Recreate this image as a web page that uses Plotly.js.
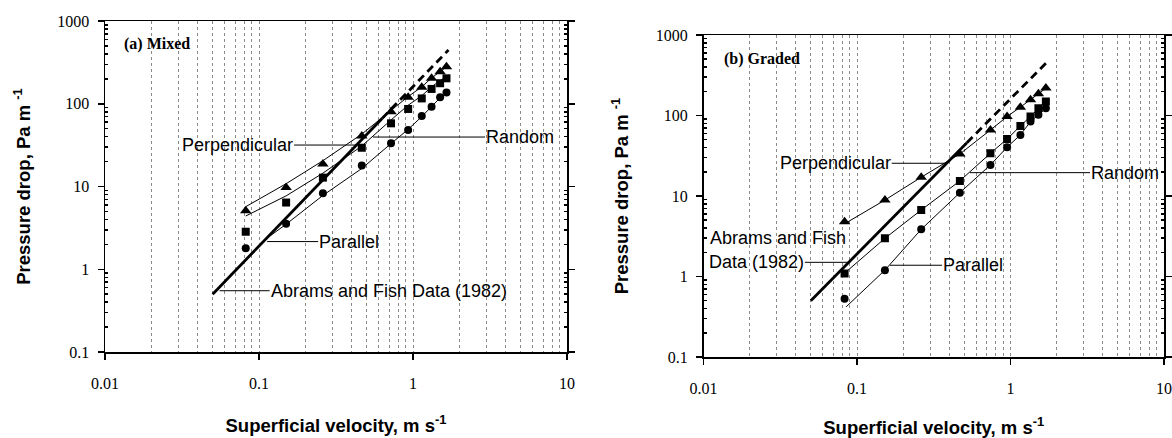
<!DOCTYPE html>
<html>
<head>
<meta charset="utf-8">
<script src="https://cdn.plot.ly/plotly-3.0.1.min.js"></script>
<style>html,body{margin:0;padding:0;background:#fff;}#chart{width:1172px;height:438px;}</style>
</head>
<body>
<div id="chart"></div>
<script>
// ---------- data ----------
// (a) Mixed
const velMixed      = [0.082, 0.15, 0.26, 0.465, 0.72, 0.93, 1.14, 1.32, 1.5, 1.65];
const mixedPerp     = [5.1, 9.7, 18.7, 40.8, 80, 120, 158, 203, 244, 280];
const mixedRandom   = [2.84, 6.4, 12.8, 29.4, 58, 86.5, 116, 151, 177, 203];
const mixedParallel = [1.79, 3.55, 8.3, 18.0, 33.3, 48.2, 71, 92, 120, 137];
// fitted curves (a)
const mixedPerpFitV = [0.082, 0.15, 0.26, 0.465, 0.72, 0.93, 1.14, 1.32, 1.5, 1.7];
const mixedPerpFitP = [5.7, 10.8, 20.5, 43, 83, 122, 160, 205, 245, 290];
const mixedRandFitV = [0.082, 0.15, 0.26, 0.465, 0.72, 0.93, 1.14, 1.32, 1.5, 1.7];
const mixedRandFitP = [4.4, 7.7, 14.5, 30.8, 63.7, 96, 125, 160, 190, 222];
const mixedParFitV  = [0.11, 0.15, 0.26, 0.465, 0.72, 0.93, 1.14, 1.32, 1.5, 1.74];
const mixedParFitP  = [2.3, 3.5, 7.8, 16.5, 33, 49, 70, 92, 118, 146];
// Abrams and Fish (1982), measured part and extrapolation, panel (a)
const abramsAV = [0.05, 0.63];
const abramsAP = [0.5, 66.5];
const abramsAExtV = [0.63, 1.7];
const abramsAExtP = [66.5, 446];

// (b) Graded
const velGraded      = [0.083, 0.152, 0.262, 0.468, 0.74, 0.95, 1.16, 1.35, 1.52, 1.7];
const gradedPerp     = [4.8, 8.9, 17.1, 33.3, 66, 97, 127, 157, 186, 219];
const gradedRandom   = [1.09, 2.98, 6.7, 15.4, 34, 51, 74, 97, 123, 149];
const gradedParallel = [0.53, 1.2, 3.85, 11.0, 24.3, 40.4, 57.4, 84, 102, 123];
// fitted curves (b)
const gradedPerpFitV = [0.086, 0.152, 0.262, 0.468, 0.74, 0.95, 1.16, 1.35, 1.52, 1.72];
const gradedPerpFitP = [4.7, 8.9, 17.1, 33.3, 66, 97, 127, 157, 186, 222];
const gradedRandFitV = [0.083, 0.152, 0.262, 0.468, 0.74, 0.95, 1.16, 1.35, 1.52, 1.72];
const gradedRandFitP = [1.1, 2.98, 6.7, 15.4, 34, 51, 74, 97, 123, 152];
const gradedParFitV  = [0.085, 0.152, 0.262, 0.468, 0.74, 0.95, 1.16, 1.35, 1.52, 1.72];
const gradedParFitP  = [0.42, 1.2, 3.85, 11.0, 24.3, 40.4, 57.4, 84, 102, 125];
// Abrams and Fish (1982), panel (b)
const abramsBV = [0.05, 0.52];
const abramsBP = [0.5, 45.9];
const abramsBExtV = [0.52, 1.72];
const abramsBExtP = [45.9, 456];

// ticks
const xTickVals = [0.01, 0.1, 1, 10];
const xTickText = ['0.01', '0.1', '1', '10'];
const yTickVals = [0.1, 1, 10, 100, 1000];
const yTickText = ['0.1', '1', '10', '100', '1000'];

// ---------- build ----------
function minorVals(d0, d1) {
  const out = [];
  for (let d = d0; d < d1; d++) for (let k = 2; k <= 9; k++) out.push(k * Math.pow(10, d));
  return out;
}
const minorX = minorVals(-2, 1);
const minorY = minorVals(-1, 3);

function markers(x, y, sym, xa, ya, size) {
  return {x: x, y: y, xaxis: xa, yaxis: ya, mode: 'markers', type: 'scatter', showlegend: false,
          marker: {symbol: sym, size: size, color: '#000'}, hoverinfo: 'x+y'};
}
function line(x, y, xa, ya, w, dash) {
  return {x: x, y: y, xaxis: xa, yaxis: ya, mode: 'lines', type: 'scatter', showlegend: false,
          line: {color: '#000', width: w, dash: dash || 'solid'}, hoverinfo: 'skip'};
}

const traces = [
  line(mixedPerpFitV, mixedPerpFitP, 'x', 'y', 1),
  line(mixedRandFitV, mixedRandFitP, 'x', 'y', 1),
  line(mixedParFitV, mixedParFitP, 'x', 'y', 1),
  line(abramsAV, abramsAP, 'x', 'y', 2.8),
  line(abramsAExtV, abramsAExtP, 'x', 'y', 2.8, '8px,5px'),
  markers(velMixed, mixedPerp, 'triangle-up', 'x', 'y', 10),
  markers(velMixed, mixedRandom, 'square', 'x', 'y', 8),
  markers(velMixed, mixedParallel, 'circle', 'x', 'y', 8),

  line(gradedPerpFitV, gradedPerpFitP, 'x2', 'y2', 1),
  line(gradedRandFitV, gradedRandFitP, 'x2', 'y2', 1),
  line(gradedParFitV, gradedParFitP, 'x2', 'y2', 1),
  line(abramsBV, abramsBP, 'x2', 'y2', 2.8),
  line(abramsBExtV, abramsBExtP, 'x2', 'y2', 2.8, '8px,5px'),
  markers(velGraded, gradedPerp, 'triangle-up', 'x2', 'y2', 10),
  markers(velGraded, gradedRandom, 'square', 'x2', 'y2', 8),
  markers(velGraded, gradedParallel, 'circle', 'x2', 'y2', 8)
];

const tickFont = {family: 'Liberation Serif, Times New Roman, serif', size: 16, color: '#000'};
const titleFont = {family: 'Liberation Sans, Arial, sans-serif', size: 18.5, color: '#000'};
const annFont = {family: 'Liberation Sans, Arial, sans-serif', size: 18, color: '#000'};
const panelFont = {family: 'Liberation Serif, Times New Roman, serif', size: 16, color: '#000'};

function xAxis(domain, anchor) {
  return {
    type: 'log', range: [-2, 1], domain: domain, anchor: anchor,
    showline: true, linecolor: '#000', linewidth: 1.5, mirror: true,
    ticks: 'outside', ticklen: 6, tickcolor: '#000', tickwidth: 1.5,
    tickmode: 'array', tickvals: xTickVals, ticktext: xTickText, tickfont: tickFont,
    ticklabelstandoff: 10,
    showgrid: true, gridcolor: '#8a8a8a', griddash: 'dot', gridwidth: 1,
    minor: {tickmode: 'array', tickvals: minorX, ticks: '', showgrid: true,
            gridcolor: '#8a8a8a', griddash: 'dot', gridwidth: 1},
    zeroline: false, automargin: false,
    title: {text: '<b>Superficial velocity, m s<sup>-1</sup></b>', font: titleFont, standoff: 28}
  };
}
function yAxis(domain, anchor) {
  return {
    type: 'log', range: [-1, 3], domain: domain, anchor: anchor,
    showline: true, linecolor: '#000', linewidth: 1.5, mirror: 'ticks',
    ticks: 'outside', ticklen: 6, tickcolor: '#000', tickwidth: 1.5,
    tickmode: 'array', tickvals: yTickVals, ticktext: yTickText, tickfont: tickFont,
    ticklabelstandoff: 5,
    showgrid: false,
    minor: {tickmode: 'array', tickvals: minorY, ticks: 'inside', ticklen: 3, tickcolor: '#000', showgrid: false},
    zeroline: false, automargin: false,
    title: {text: '<b>Pressure drop, Pa m <sup>-1</sup></b>', font: titleFont, standoff: 22}
  };
}

const L = Math.log10;
function arrowAnn(xa, ya, v, p, text, ax, anchor) {
  return {xref: xa, yref: ya, x: L(v), y: L(p), text: text, showarrow: true, arrowhead: 0,
          arrowwidth: 1, arrowcolor: '#000', ax: ax, ay: 0, xanchor: anchor, yanchor: 'middle',
          font: annFont, borderpad: 0};
}

const annotations = [
  {xref: 'x domain', yref: 'y domain', x: 0.036, y: 0.93, text: '<b>(a) Mixed</b>', showarrow: false,
   xanchor: 'left', yanchor: 'middle', font: panelFont},
  arrowAnn('x', 'y', 0.44, 31.7, 'Perpendicular', -64, 'right'),
  arrowAnn('x', 'y', 0.55, 39.6, 'Random', 112, 'left'),
  arrowAnn('x', 'y', 0.113, 2.16, 'Parallel', 51, 'left'),
  arrowAnn('x', 'y', 0.0555, 0.55, 'Abrams and Fish Data (1982)', 50, 'left'),

  {xref: 'x2 domain', yref: 'y2 domain', x: 0.0395, y: 0.925, text: '<b>(b) Graded</b>', showarrow: false,
   xanchor: 'left', yanchor: 'middle', font: panelFont},
  arrowAnn('x2', 'y2', 0.39, 25.5, 'Perpendicular', -56, 'right'),
  arrowAnn('x2', 'y2', 0.545, 19.5, 'Random', 120, 'left'),
  arrowAnn('x2', 'y2', 0.164, 1.38, 'Parallel', 52, 'left'),
  arrowAnn('x2', 'y2', 0.0873, 1.5, 'Data (1982)', -43, 'right'),
  {xref: 'x2 domain', yref: 'y2 domain', x: 0.0098, y: 0.3686, text: 'Abrams and Fish', showarrow: false,
   xanchor: 'left', yanchor: 'middle', font: annFont}
];

const layout = {
  width: 1172, height: 438,
  margin: {l: 0, r: 0, t: 0, b: 0},
  paper_bgcolor: '#fff', plot_bgcolor: '#fff',
  showlegend: false,
  xaxis: xAxis([105 / 1172, 567 / 1172], 'y'),
  yaxis: yAxis([86 / 438, 417 / 438], 'x'),
  xaxis2: xAxis([703.5 / 1172, 1164 / 1172], 'y2'),
  yaxis2: yAxis([81 / 438, 403 / 438], 'x2'),
  annotations: annotations
};

Plotly.newPlot('chart', traces, layout, {displayModeBar: false, staticPlot: true});
</script>
</body>
</html>
